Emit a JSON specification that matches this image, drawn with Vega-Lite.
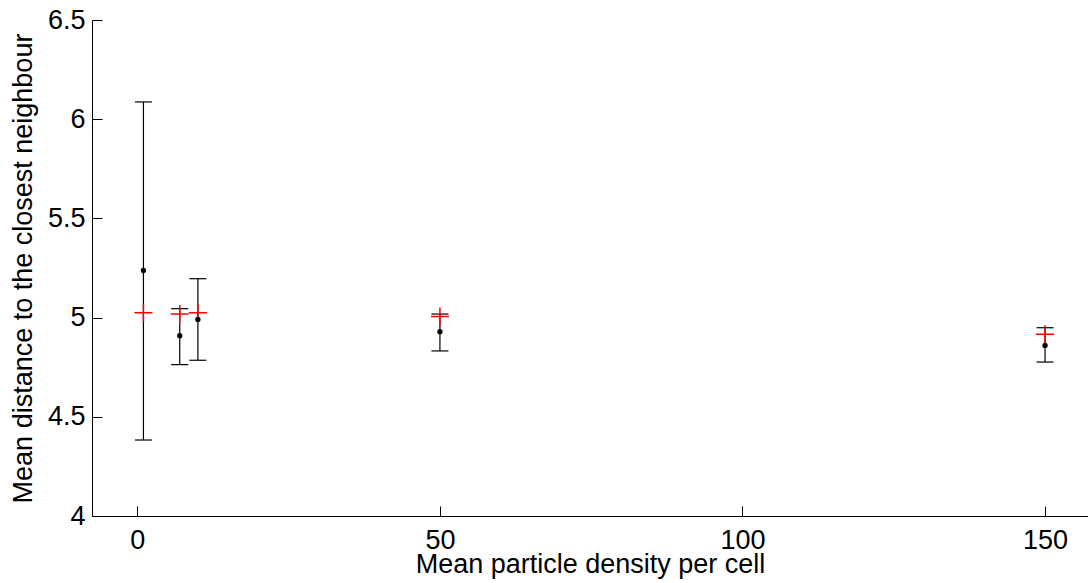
{
  "$schema": "https://vega.github.io/schema/vega-lite/v6.json",
  "autosize": "none",
  "padding": {"left": 92, "top": 20, "right": 0, "bottom": 67},
  "width": 996,
  "height": 496,
  "background": "white",
  "config": {
    "view": {"stroke": null},
    "font": "Liberation Sans",
    "axis": {
      "grid": false,
      "domainColor": "#000000",
      "tickColor": "#000000",
      "labelFont": "Liberation Sans",
      "titleFont": "Liberation Sans",
      "labelFontSize": 27,
      "titleFontSize": 27,
      "labelColor": "#000000",
      "titleColor": "#000000",
      "titleFontWeight": "normal",
      "tickSize": -10
    }
  },
  "data": {
    "values": [
      {"density": 1, "mean": 5.238, "lo": 4.383, "hi": 6.087, "ref": 5.025},
      {"density": 7, "mean": 4.909, "lo": 4.763, "hi": 5.045, "ref": 5.018},
      {"density": 10, "mean": 4.991, "lo": 4.785, "hi": 5.196, "ref": 5.025},
      {"density": 50, "mean": 4.929, "lo": 4.832, "hi": 5.018, "ref": 5.005},
      {"density": 150, "mean": 4.860, "lo": 4.776, "hi": 4.949, "ref": 4.916}
    ]
  },
  "encoding": {
    "x": {
      "field": "density",
      "type": "quantitative",
      "scale": {"domain": [-7.5, 157.1], "nice": false, "zero": false},
      "axis": {
        "title": "Mean particle density per cell",
        "values": [0, 50, 100, 150],
        "labelPadding": 21,
        "titlePadding": -2
      }
    }
  },
  "layer": [
    {
      "mark": {"type": "rule", "color": "#000000", "strokeWidth": 1.2},
      "encoding": {
        "y": {
          "field": "lo",
          "type": "quantitative",
          "scale": {"domain": [4, 6.5], "nice": false, "zero": false},
          "axis": {
            "title": "Mean distance to the closest neighbour",
            "values": [4, 4.5, 5, 5.5, 6, 6.5],
            "format": "~g",
            "labelPadding": 17,
            "titlePadding": 10
          }
        },
        "y2": {"field": "hi"}
      }
    },
    {
      "mark": {"type": "point", "shape": "M-1,0L1,0", "filled": false, "stroke": "#000000", "strokeWidth": 1.2, "size": 289, "opacity": 1},
      "encoding": {"y": {"field": "lo", "type": "quantitative"}}
    },
    {
      "mark": {"type": "point", "shape": "M-1,0L1,0", "filled": false, "stroke": "#000000", "strokeWidth": 1.2, "size": 289, "opacity": 1},
      "encoding": {"y": {"field": "hi", "type": "quantitative"}}
    },
    {
      "mark": {"type": "point", "shape": "M-1,0L1,0M0,-1L0,1", "filled": false, "stroke": "#ff0000", "strokeWidth": 1.5, "size": 324, "opacity": 1},
      "encoding": {"y": {"field": "ref", "type": "quantitative"}}
    },
    {
      "mark": {"type": "point", "shape": "circle", "filled": true, "color": "#000000", "size": 28, "opacity": 1},
      "encoding": {"y": {"field": "mean", "type": "quantitative"}}
    }
  ]
}
